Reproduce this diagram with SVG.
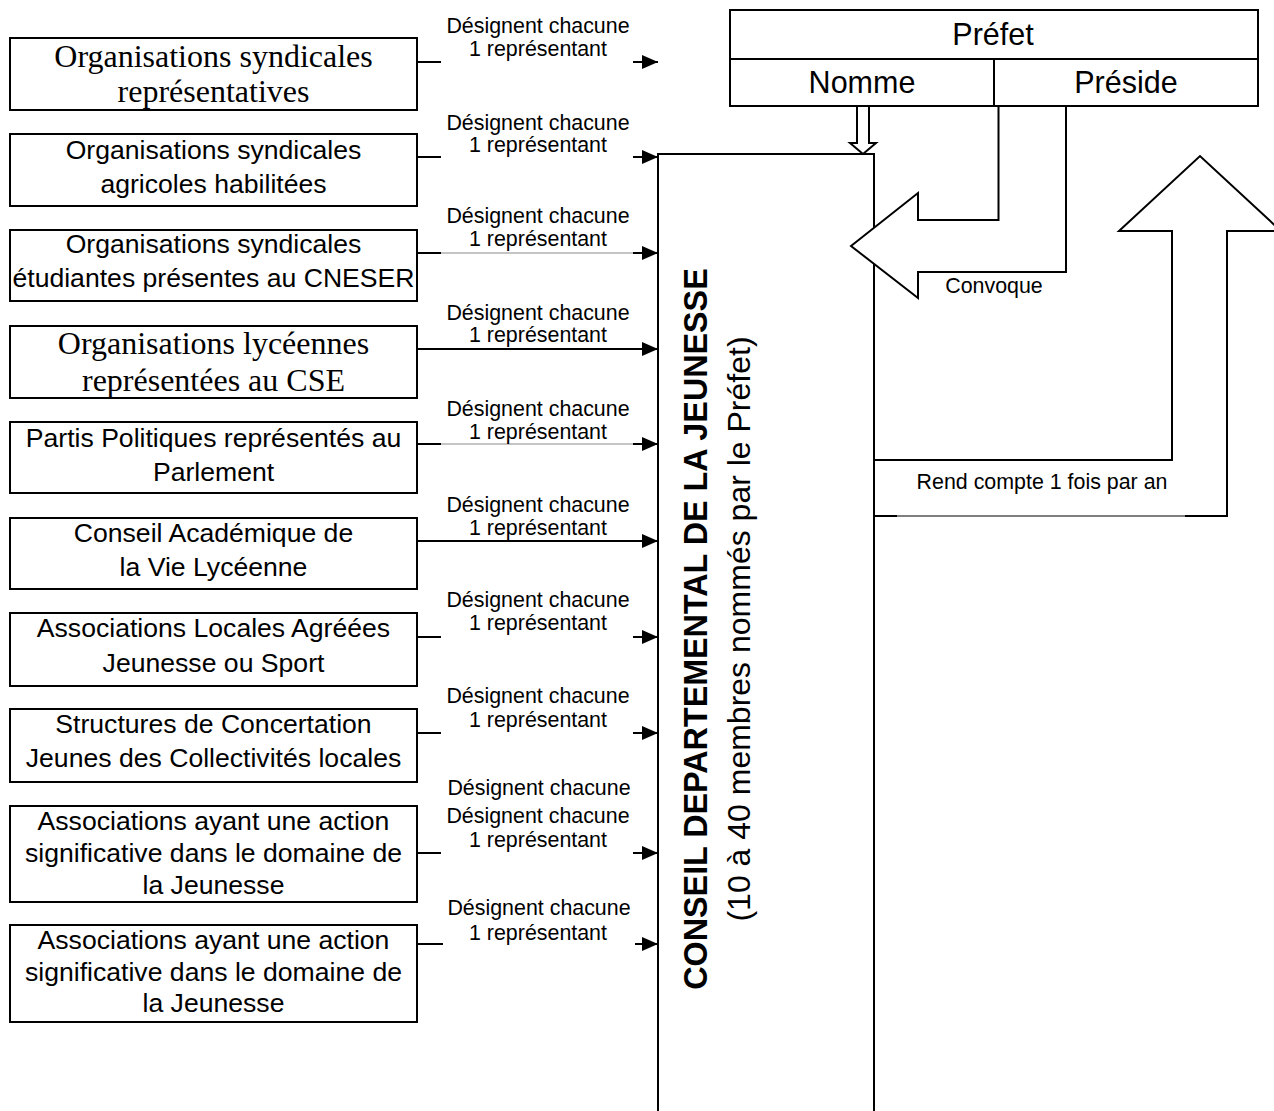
<svg xmlns="http://www.w3.org/2000/svg" width="1274" height="1111" viewBox="0 0 1274 1111">
<style>
.box{fill:#fff;stroke:#000;stroke-width:2}
.s{font-family:"Liberation Sans",Arial,sans-serif;font-size:26.6px;fill:#000;text-anchor:middle}
.sf{font-family:"Liberation Serif","Times New Roman",serif;font-size:32px;fill:#000;text-anchor:middle}
.lbl{font-family:"Liberation Sans",Arial,sans-serif;font-size:21.4px;fill:#000;text-anchor:middle}
.big{font-family:"Liberation Sans",Arial,sans-serif;font-size:30.5px;fill:#000;text-anchor:middle}
.vt{font-family:"Liberation Sans",Arial,sans-serif;fill:#000;text-anchor:middle}
.ln{fill:none;stroke:#000;stroke-width:2}
.thin{fill:none;stroke:#8a8a8a;stroke-width:1}
.ar{fill:none;stroke:#000;stroke-width:2;marker-end:url(#ah)}
.hollow{fill:#fff;stroke:#000;stroke-width:2;stroke-linejoin:miter}
</style>
<defs>
<marker id="ah" markerWidth="16" markerHeight="14" refX="16" refY="7" orient="auto" markerUnits="userSpaceOnUse">
<path d="M0,0 L16,7 L0,14 z" fill="#000"/>
</marker>
</defs>
<rect width="1274" height="1111" fill="#fff"/>

<g id="n1"><rect class="box" x="10" y="38" width="407" height="72"/>
<text class="sf" x="213.5" y="67">Organisations syndicales</text>
<text class="sf" x="213.5" y="102">représentatives</text></g>
<g id="n2"><rect class="box" x="10" y="134" width="407" height="72"/>
<text class="s" x="213.5" y="159">Organisations syndicales</text>
<text class="s" x="213.5" y="193">agricoles habilitées</text></g>
<g id="n3"><rect class="box" x="10" y="230" width="407" height="71"/>
<text class="s" x="213.5" y="253">Organisations syndicales</text>
<text class="s" x="213.5" y="287">étudiantes présentes au CNESER</text></g>
<g id="n4"><rect class="box" x="10" y="326" width="407" height="72"/>
<text class="sf" x="213.5" y="354">Organisations lycéennes</text>
<text class="sf" x="213.5" y="391">représentées au CSE</text></g>
<g id="n5"><rect class="box" x="10" y="422" width="407" height="71"/>
<text class="s" x="213.5" y="447">Partis Politiques représentés au</text>
<text class="s" x="213.5" y="481">Parlement</text></g>
<g id="n6"><rect class="box" x="10" y="518" width="407" height="71"/>
<text class="s" x="213.5" y="542">Conseil Académique de</text>
<text class="s" x="213.5" y="576">la Vie Lycéenne</text></g>
<g id="n7"><rect class="box" x="10" y="613" width="407" height="73"/>
<text class="s" x="213.5" y="637">Associations Locales Agréées</text>
<text class="s" x="213.5" y="672">Jeunesse ou Sport</text></g>
<g id="n8"><rect class="box" x="10" y="709" width="407" height="73"/>
<text class="s" x="213.5" y="733">Structures de Concertation</text>
<text class="s" x="213.5" y="767">Jeunes des Collectivités locales</text></g>
<g id="n9"><rect class="box" x="10" y="806" width="407" height="96"/>
<text class="s" x="213.5" y="830">Associations ayant une action</text>
<text class="s" x="213.5" y="862">significative dans le domaine de</text>
<text class="s" x="213.5" y="894">la Jeunesse</text></g>
<g id="n10"><rect class="box" x="10" y="925" width="407" height="97"/>
<text class="s" x="213.5" y="949">Associations ayant une action</text>
<text class="s" x="213.5" y="981">significative dans le domaine de</text>
<text class="s" x="213.5" y="1012">la Jeunesse</text></g>

<g id="cdj"><path d="M658,1111 V154 H874 V1111" fill="#fff" stroke="#000" stroke-width="2"/>
<text class="vt" font-size="32.3" font-weight="bold" transform="translate(707,629) rotate(-90)">CONSEIL DEPARTEMENTAL DE LA JEUNESSE</text>
<text class="vt" font-size="32" transform="translate(750,629) rotate(-90)">(10 à 40 membres nommés par le Préfet)</text></g>

<g id="prefet"><rect class="box" x="730" y="10" width="528" height="96"/>
<path class="ln" d="M730,59 H1258 M994,59 V106"/>
<text class="big" x="993" y="45">Préfet</text>
<text class="big" x="862" y="93">Nomme</text>
<text class="big" x="1126" y="93">Préside</text></g>

<g id="connectors">
<path class="ln" d="M417,62 H441"/><path class="ar" d="M633,62 H658"/>
<path class="ln" d="M417,157 H441"/><path class="ar" d="M633,157 H658"/>
<path class="ln" d="M417,253 H441"/><path class="thin" d="M441,253 H633"/><path class="ar" d="M633,253 H658"/>
<path class="ar" d="M417,349 H658"/>
<path class="ln" d="M417,444 H441"/><path class="thin" d="M441,444 H633"/><path class="ar" d="M633,444 H658"/>
<path class="ar" d="M417,541 H658"/>
<path class="ln" d="M417,637 H441"/><path class="ar" d="M633,637 H658"/>
<path class="ln" d="M417,733 H441"/><path class="ar" d="M633,733 H658"/>
<path class="ln" d="M417,853 H441"/><path class="ar" d="M633,853 H658"/>
<path class="ln" d="M417,944 H443"/><path class="ar" d="M635,944 H658"/>
<polygon class="hollow" stroke-width="1.5" points="857,106 869,106 869,143 876,143 863,154 850,143 857,143"/>
<polygon class="hollow" points="851,246 918,193 918,220 998.5,220 998.5,106 1066,106 1066,272 918,272 918,298"/>
<path class="hollow" d="M874,460 H1172 V231 H1119 L1200,156 L1281,231 H1227 V516 H1185"/>
<path class="ln" d="M874,516 H897"/><path fill="none" stroke="#000" stroke-width="1" d="M897,516 H1185"/>
</g>

<g id="labels">
<text class="lbl" x="538" y="33">Désignent chacune</text><text class="lbl" x="538" y="56">1 représentant</text>
<text class="lbl" x="538" y="130">Désignent chacune</text><text class="lbl" x="538" y="152">1 représentant</text>
<text class="lbl" x="538" y="223">Désignent chacune</text><text class="lbl" x="538" y="246">1 représentant</text>
<text class="lbl" x="538" y="320">Désignent chacune</text><text class="lbl" x="538" y="342">1 représentant</text>
<text class="lbl" x="538" y="416">Désignent chacune</text><text class="lbl" x="538" y="439">1 représentant</text>
<text class="lbl" x="538" y="512">Désignent chacune</text><text class="lbl" x="538" y="535">1 représentant</text>
<text class="lbl" x="538" y="607">Désignent chacune</text><text class="lbl" x="538" y="630">1 représentant</text>
<text class="lbl" x="538" y="703">Désignent chacune</text><text class="lbl" x="538" y="727">1 représentant</text>
<text class="lbl" x="539" y="795">Désignent chacune</text><text class="lbl" x="538" y="823">Désignent chacune</text><text class="lbl" x="538" y="847">1 représentant</text>
<text class="lbl" x="539" y="915">Désignent chacune</text><text class="lbl" x="538" y="940">1 représentant</text>
<text class="lbl" x="994" y="293">Convoque</text>
<text class="lbl" x="1042" y="489">Rend compte 1 fois par an</text>
</g>
</svg>
